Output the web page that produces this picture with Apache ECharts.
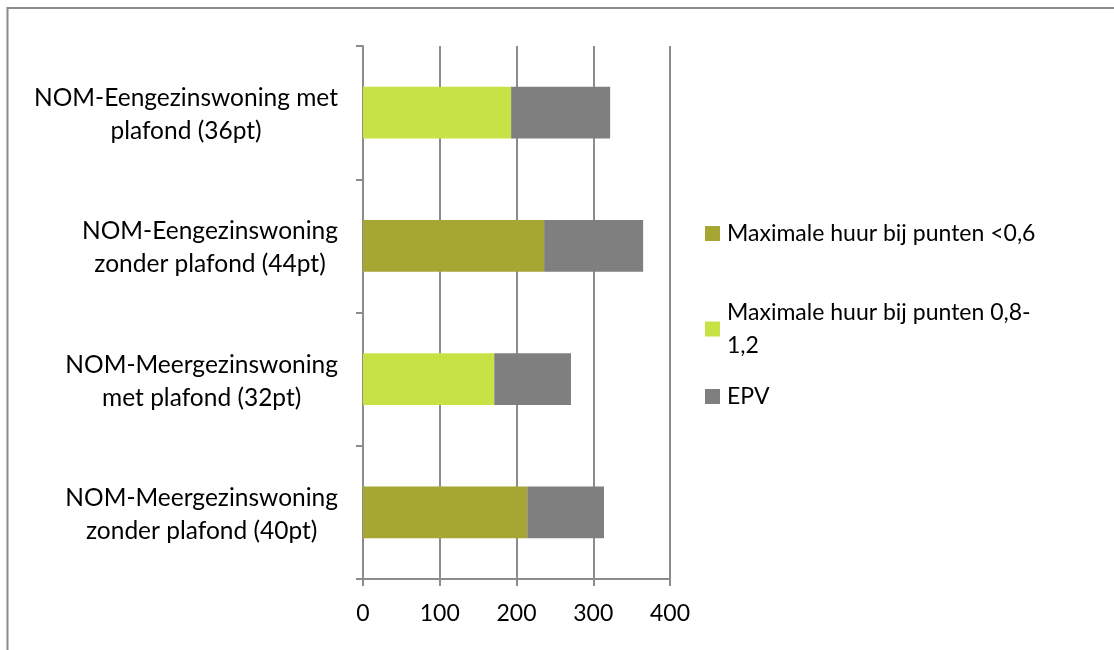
<!DOCTYPE html>
<html>
<head>
<meta charset="utf-8">
<script src="https://cdn.jsdelivr.net/npm/echarts@6/dist/echarts.min.js"></script>
<style>html,body{margin:0;padding:0;background:#fff;}#c{width:1114px;height:650px;}</style>
</head>
<body>
<div id="c"></div>
<script>
var categories = [
  'NOM-Eengezinswoning met\nplafond (36pt)',
  'NOM-Eengezinswoning\nzonder plafond (44pt)',
  'NOM-Meergezinswoning\nmet plafond (32pt)',
  'NOM-Meergezinswoning\nzonder plafond (40pt)'
];
var seriesNames = ['Maximale huur bij punten <0,6', 'Maximale huur bij punten 0,8-1,2', 'EPV'];
var huurLow = [null, 236, null, 214];
var huurMid = [193, null, 171, null];
var epv = [129, 129, 100, 100];
var xTicks = [0, 100, 200, 300, 400];

var FONT = 'Lato';
var chart = echarts.init(document.getElementById('c'));
function legendAt(name, top) {
  return {
    data: [name], left: 700, top: top, orient: 'vertical',
    itemWidth: 15, itemHeight: 15, icon: 'rect',
    formatter: function (n) { return n === seriesNames[1] ? 'Maximale huur bij punten 0,8-\n1,2' : n; },
    textStyle: { fontFamily: FONT, fontSize: 23, color: '#000', lineHeight: 33, padding: [0, 0, 0, 2] }
  };
}
chart.setOption({
  animation: false,
  textStyle: { fontFamily: FONT },
  graphic: [{ type: 'rect', shape: { x: 7.5, y: 8, width: 1200, height: 800 }, style: { fill: 'none', stroke: '#8a8a8a', lineWidth: 2 }, silent: true }],
  legend: [
    legendAt(seriesNames[0], 212),
    legendAt(seriesNames[1], 291),
    legendAt(seriesNames[2], 375)
  ],
  grid: { left: 363, right: 444, top: 46, bottom: 71, containLabel: false },
  xAxis: {
    type: 'value', min: xTicks[0], max: xTicks[xTicks.length - 1], interval: 100,
    axisLine: { show: true, lineStyle: { color: '#8c8c8c', width: 2 } },
    axisTick: { show: true, length: 7, lineStyle: { color: '#8c8c8c', width: 2 } },
    splitLine: { show: true, lineStyle: { color: '#8c8c8c', width: 2 } },
    axisLabel: { fontFamily: FONT, fontSize: 23, color: '#000', margin: 23 }
  },
  yAxis: {
    type: 'category', data: categories, inverse: true,
    axisLine: { show: true, lineStyle: { color: '#8c8c8c', width: 2 } },
    axisTick: { show: true, length: 7, alignWithLabel: false, lineStyle: { color: '#8c8c8c', width: 2 } },
    axisLabel: {
      margin: 25, color: '#000',
      formatter: function (v) { return v.split('\n').map(function (l) { return '{c|' + l + '}'; }).join('\n'); },
      rich: { c: { fontFamily: FONT, fontSize: 24.5, lineHeight: 33, align: 'center', color: '#000', padding: [4, 0, 0, 0] } }
    }
  },
  series: [
    { name: seriesNames[0], type: 'bar', stack: 's', data: huurLow, barWidth: '39%', itemStyle: { color: '#A6A633' } },
    { name: seriesNames[1], type: 'bar', stack: 's', data: huurMid, barWidth: '39%', itemStyle: { color: '#C7E245' } },
    { name: seriesNames[2], type: 'bar', stack: 's', data: epv, barWidth: '39%', itemStyle: { color: '#7F7F7F' } }
  ]
});
</script>
</body>
</html>
